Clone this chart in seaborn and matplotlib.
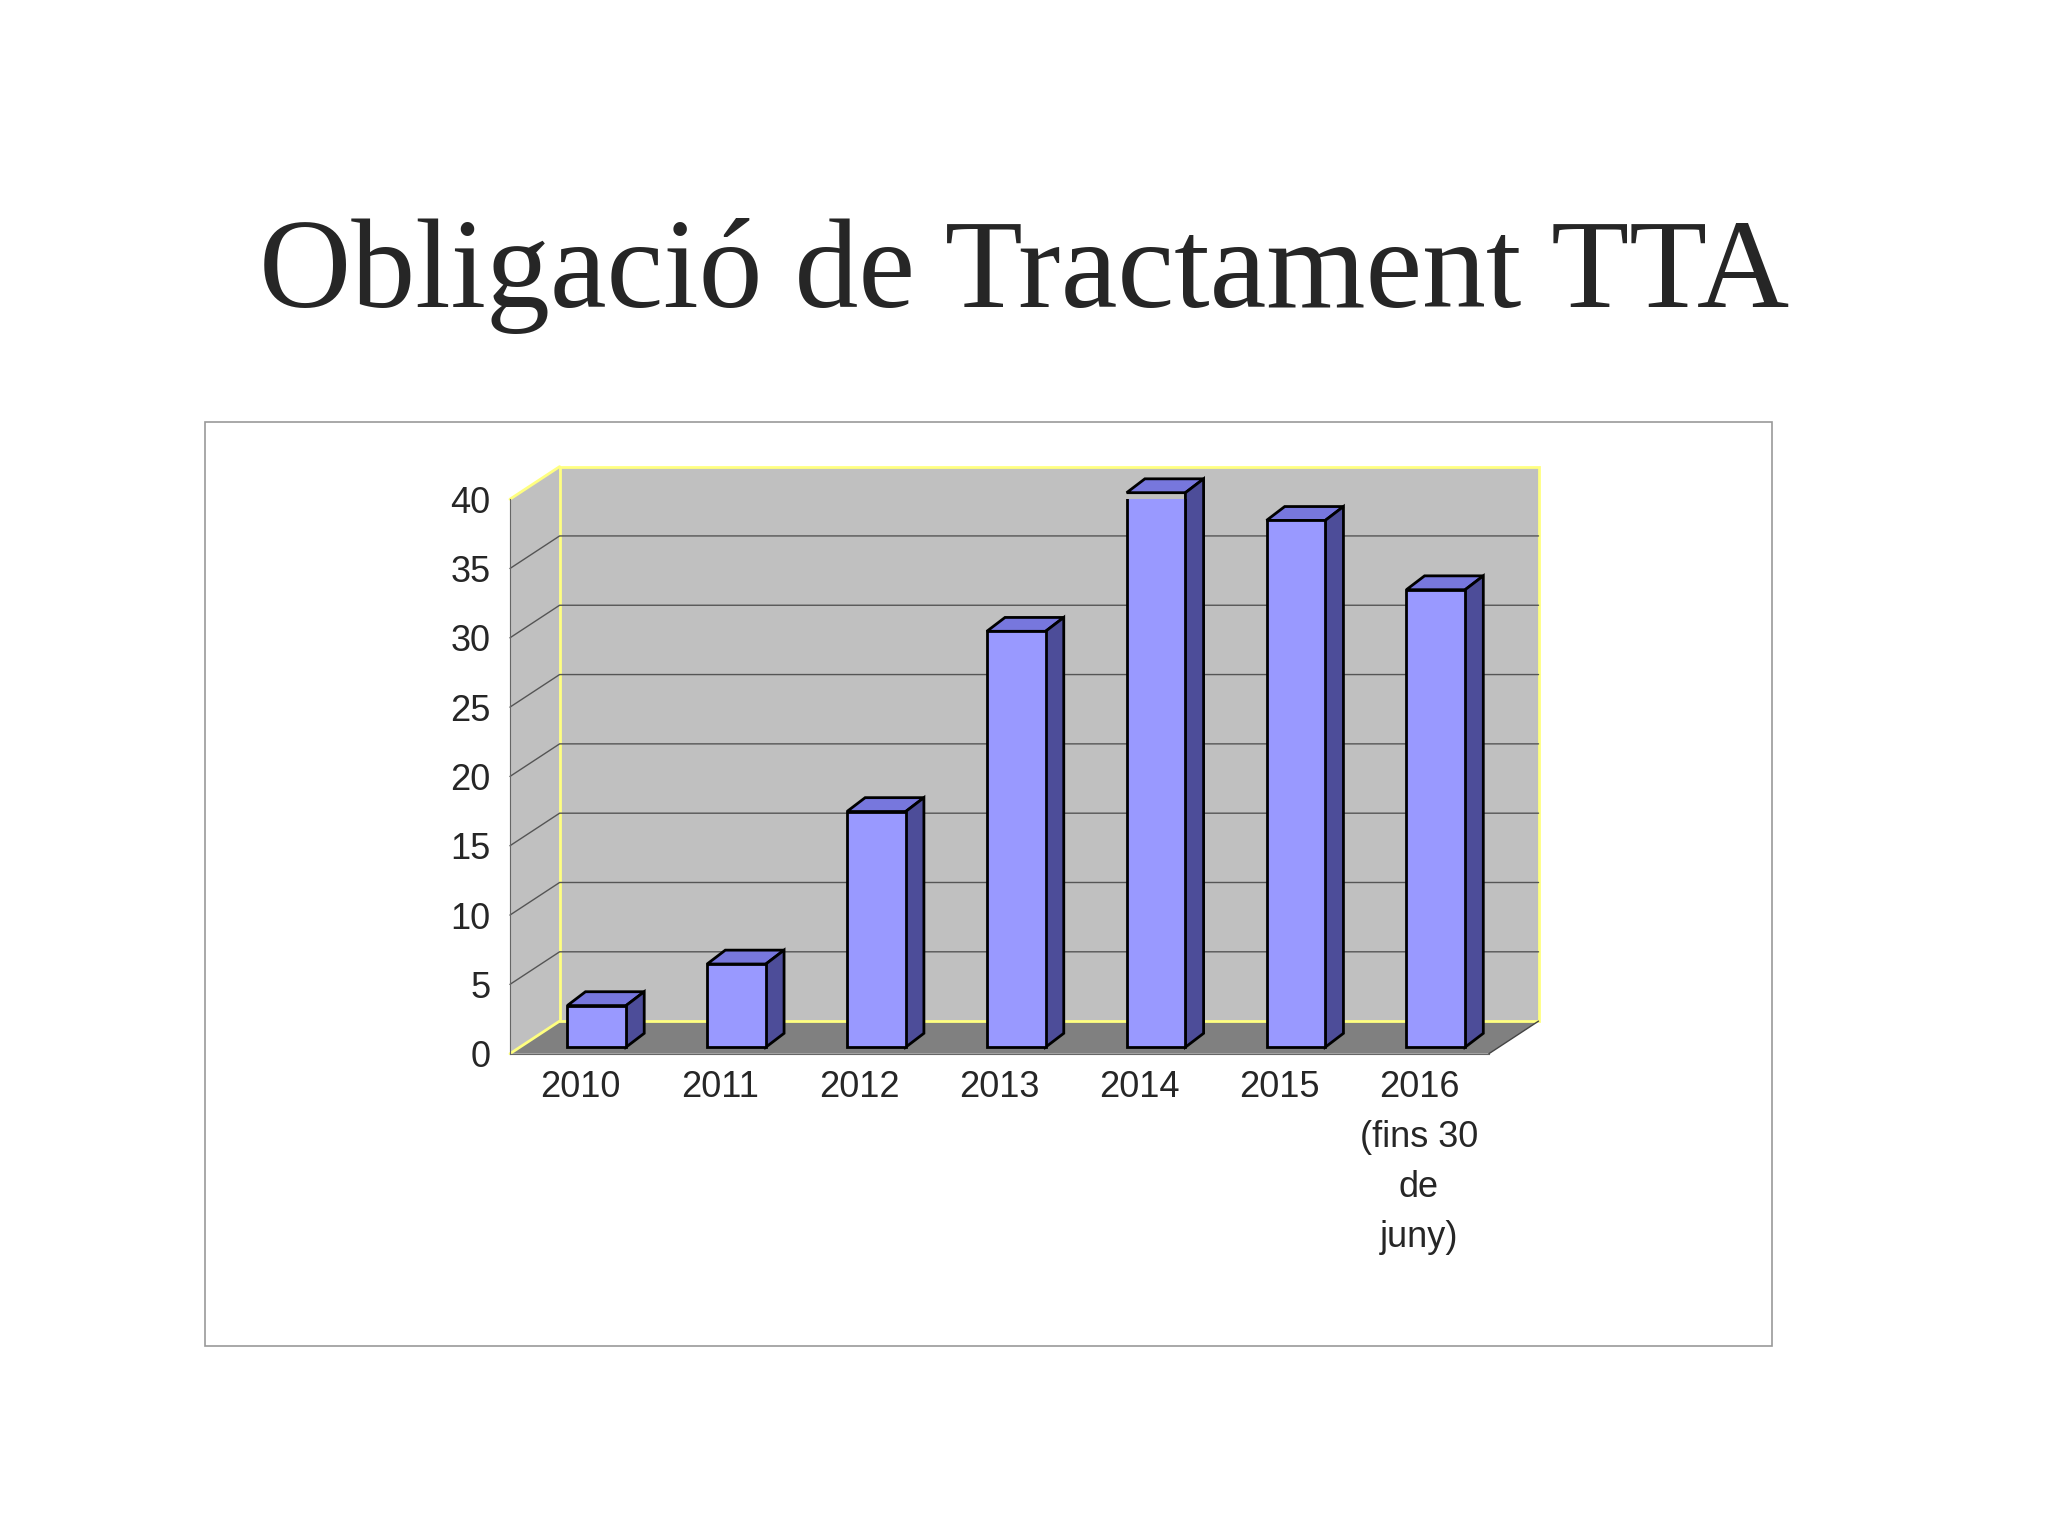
import matplotlib
matplotlib.use("Agg")
import matplotlib.pyplot as plt
import seaborn as sns
import numpy as np
from matplotlib.patches import Polygon, Rectangle

sns.set_style("white")
plt.rcParams['font.family'] = ['Liberation Sans', 'DejaVu Sans']

categories = ["2010", "2011", "2012", "2013", "2014", "2015", "2016\n(fins 30\nde\njuny)"]
values = [3, 6, 17, 30, 40, 38, 33]
yticks = [0, 5, 10, 15, 20, 25, 30, 35, 40]

fig = plt.figure(figsize=(20.48, 15.36), dpi=100)
fig.text(0.5, 0.82, "Obligació de Tractament TTA", ha="center", va="center",
         family="Liberation Serif", fontsize=92)
# outer frame
fig.add_artist(Rectangle((0.1, 0.124), 0.765, 0.601, transform=fig.transFigure,
                         fill=False, edgecolor="#999999", lw=1.2))

ax = fig.add_axes([0.249, 0.314, 0.478, 0.361])
n = len(categories)
x0, x1 = -0.5, n - 0.5
dx, dy = 0.355, 2.35
ymax = 40
ax.set_xlim(x0, x1)
ax.set_ylim(0, ymax)

# walls
ax.add_patch(Polygon([(x0, 0), (x1, 0), (x1 + dx, dy), (x0 + dx, dy)],
                     closed=True, fc="#808080", ec="none", clip_on=False, zorder=1))
ax.add_patch(Polygon([(x0, 0), (x0, ymax), (x0 + dx, ymax + dy), (x0 + dx, dy)],
                     closed=True, fc="#C0C0C0", ec="none", clip_on=False, zorder=1))
ax.add_patch(Rectangle((x0 + dx, dy), x1 - x0, ymax, fc="#C0C0C0", ec="#FFFF80",
                       lw=2, clip_on=False, zorder=1))
for t in yticks[1:-1]:
    ax.plot([x0, x0 + dx, x1 + dx], [t, t + dy, t + dy], color="#555555", lw=1,
            clip_on=False, zorder=2)
ax.plot([x0, x0 + dx], [ymax, ymax + dy], color="#FFFF80", lw=2, clip_on=False, zorder=2)
ax.plot([x0, x0 + dx], [0, dy], color="#FFFF80", lw=2, clip_on=False, zorder=2)
ax.plot([x1, x1 + dx], [0, dy], color="#444444", lw=1, clip_on=False, zorder=2)

# bars
pos = np.arange(n) + 0.12
w = 0.42
base = 0.47
bdx, bdy = 0.13, 1.0
ax.bar(pos, values, width=w, bottom=base, color="#9999FF", edgecolor="black", lw=2, zorder=5)
for p, v in zip(pos, values):
    xl, xr = p - w / 2, p + w / 2
    top = base + v
    ax.add_patch(Polygon([(xl, top), (xr, top), (xr + bdx, top + bdy), (xl + bdx, top + bdy)],
                         closed=True, fc="#7777DD", ec="black", lw=2, clip_on=False, zorder=4))
    ax.add_patch(Polygon([(xr, base), (xr, top), (xr + bdx, top + bdy), (xr + bdx, base + bdy)],
                         closed=True, fc="#4D4D99", ec="black", lw=2, clip_on=False, zorder=4))

# axes
sns.despine(ax=ax, top=True, right=True)
ax.spines['left'].set_color("#666666")
ax.spines['bottom'].set_color("#666666")
ax.set_yticks(yticks)
ax.set_yticklabels([str(t) for t in yticks], fontsize=26)
ax.set_xticks(np.arange(n + 1) - 0.5, minor=True)
ax.set_xticks(np.arange(n))
ax.set_xticklabels(categories, fontsize=26, linespacing=1.55, va="top")
ax.tick_params(axis='x', which='major', length=0, pad=12)
ax.tick_params(axis='x', which='minor', length=8, color="#666666", direction="out")
ax.tick_params(axis='y', length=8, color="#666666", direction="out", pad=6)
ax.set_zorder(1)

fig.savefig("out.png", dpi=100)
